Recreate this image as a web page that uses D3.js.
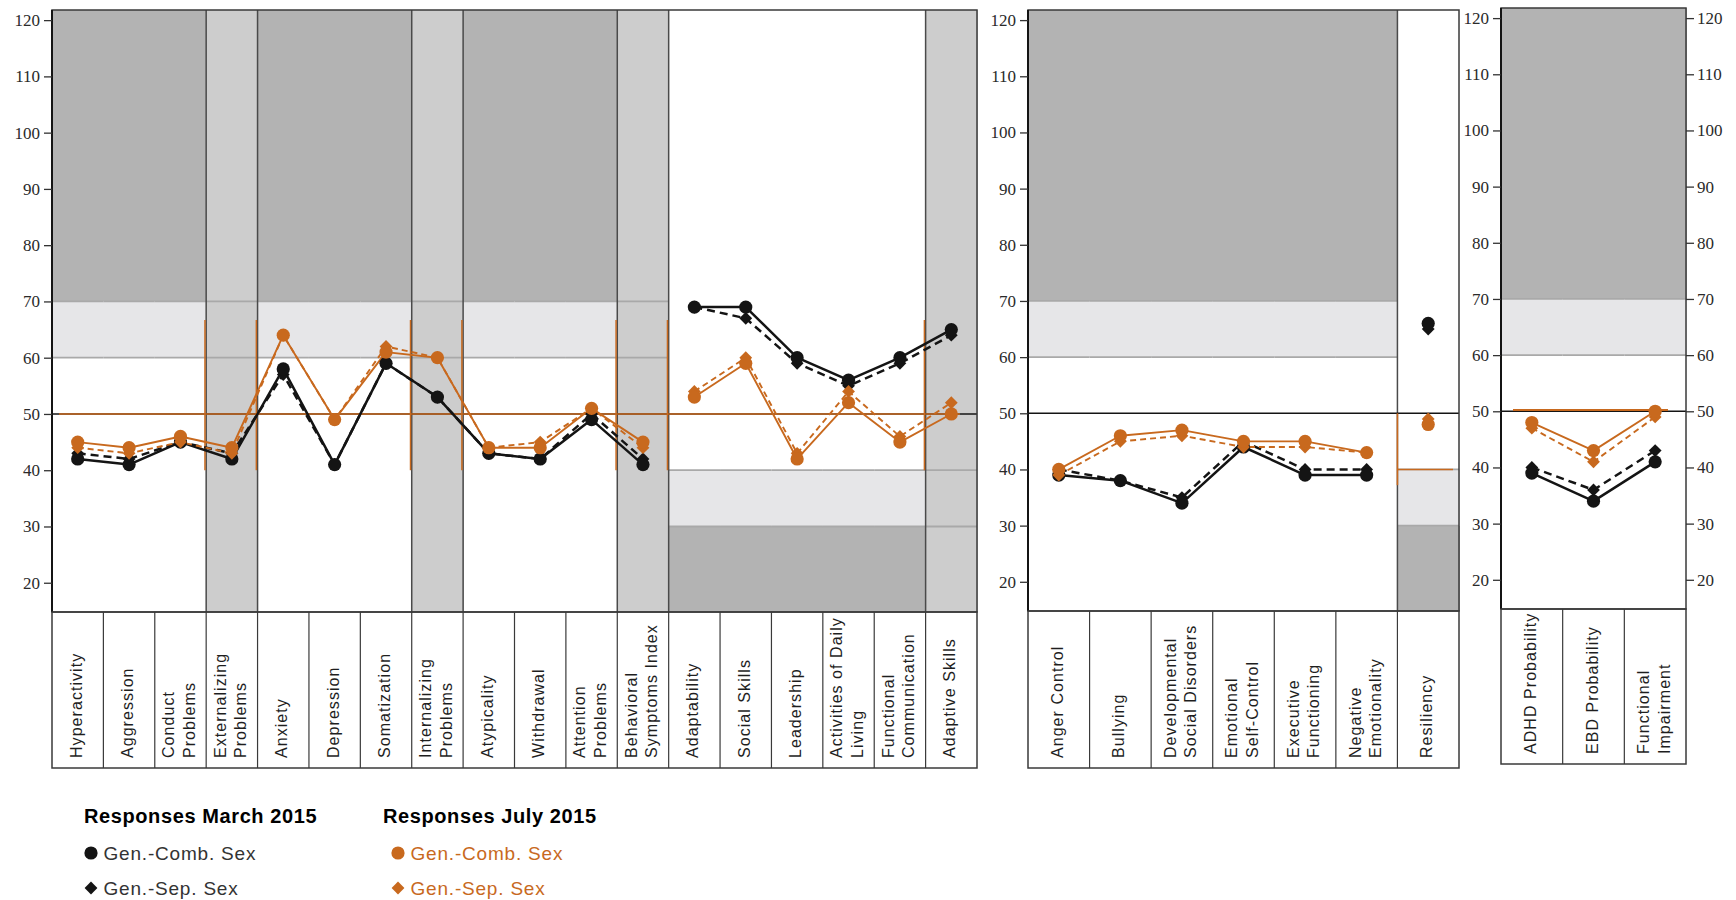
<!DOCTYPE html>
<html>
<head>
<meta charset="utf-8">
<script src="https://cdn.jsdelivr.net/npm/d3@7"></script>
<style>
  body { margin: 0; background: #fff; }
  svg { display: block; }
</style>
</head>
<body>
<svg id="chart" width="1736" height="900"></svg>
<script>
// ---------- Data: T-scores per scale ----------
const yTicks = [20, 30, 40, 50, 60, 70, 80, 90, 100, 110, 120];

// Clinical / adaptive scales and composites
const panel1Categories = ["Hyperactivity", "Aggression", "Conduct\nProblems", "Externalizing\nProblems",
  "Anxiety", "Depression", "Somatization", "Internalizing\nProblems", "Atypicality", "Withdrawal",
  "Attention\nProblems", "Behavioral\nSymptoms Index", "Adaptability", "Social Skills", "Leadership",
  "Activities of Daily\nLiving", "Functional\nCommunication", "Adaptive Skills"];
const panel1Kinds = ["clinical", "clinical", "clinical", "clinicalComposite", "clinical", "clinical",
  "clinical", "clinicalComposite", "clinical", "clinical", "clinical", "clinicalComposite",
  "adaptive", "adaptive", "adaptive", "adaptive", "adaptive", "adaptiveComposite"];
const panel1Segments = [[0, 11], [12, 17]];
const panel1MarchComb = [42, 41, 45, 42, 58, 41, 59, 53, 43, 42, 49, 41, 69, 69, 60, 56, 60, 65];
const panel1MarchSep  = [43, 42, 45, 43, 57, 41, 59, 53, 43, 42, 50, 42, 69, 67, 59, 55, 59, 64];
const panel1JulyComb  = [45, 44, 46, 44, 64, 49, 61, 60, 44, 44, 51, 45, 53, 59, 42, 52, 45, 50];
const panel1JulySep   = [44, 43, 45, 43, 64, 49, 62, 60, 44, 45, 51, 44, 54, 60, 43, 54, 46, 52];

// Content scales
const panel2Categories = ["Anger Control", "Bullying", "Developmental\nSocial Disorders",
  "Emotional\nSelf-Control", "Executive\nFunctioning", "Negative\nEmotionality", "Resiliency"];
const panel2Kinds = ["clinical", "clinical", "clinical", "clinical", "clinical", "clinical", "adaptive"];
const panel2Segments = [[0, 5], [6, 6]];
const panel2MarchComb = [39, 38, 34, 44, 39, 39, 66];
const panel2MarchSep  = [40, 38, 35, 45, 40, 40, 65];
const panel2JulyComb  = [40, 46, 47, 45, 45, 43, 48];
const panel2JulySep   = [39, 45, 46, 44, 44, 43, 49];

// Probability indexes
const panel3Categories = ["ADHD Probability", "EBD Probability", "Functional\nImpairment"];
const panel3Kinds = ["clinical", "clinical", "clinical"];
const panel3Segments = [[0, 2]];
const panel3MarchComb = [39, 34, 41];
const panel3MarchSep  = [40, 36, 43];
const panel3JulyComb  = [48, 43, 50];
const panel3JulySep   = [47, 41, 49];

const legendTitles = ["Responses March 2015", "Responses July 2015"];
const legendItems = ["Gen.-Comb. Sex", "Gen.-Sep. Sex"];

// ---------- Styling ----------
const ORANGE = "#c8691e";
const INK = "#141414";
const DARK_BAND = "#b3b3b3";
const LIGHT_BAND = "#e6e6e8";
const COMPOSITE = "#cdcdcd";
const GRID = "#a9a9a9";
const FRAME = "#3a3a3a";
const yDomain = [14.8, 121.8];

const svg = d3.select("#chart");

const seriesStyles = [
  { key: "marchSep",  color: INK,    width: 2.5, dash: "8,5", shape: "diamond" },
  { key: "marchComb", color: INK,    width: 2.5, dash: null,  shape: "circle" },
  { key: "julySep",   color: ORANGE, width: 1.9, dash: "6,4", shape: "diamond" },
  { key: "julyComb",  color: ORANGE, width: 1.9, dash: null,  shape: "circle" }
];

function drawMarker(g, shape, cx, cy, color) {
  if (shape === "circle") {
    g.append("circle").attr("cx", cx).attr("cy", cy).attr("r", 6.6).attr("fill", color);
  } else {
    g.append("path")
      .attr("d", d3.symbol(d3.symbolSquare, 82)())
      .attr("transform", `translate(${cx},${cy}) rotate(45)`)
      .attr("fill", color);
  }
}

function drawPanel(cfg) {
  const { x0, x1, top, bottom, labelBottom, cats, kinds, segments, series } = cfg;
  const x = d3.scaleBand().domain(d3.range(cats.length)).range([x0, x1]);
  const bw = x.bandwidth();
  const y = d3.scaleLinear().domain(yDomain).range([bottom, top]);
  const g = svg.append("g");
  const bg = g.append("g").attr("shape-rendering", "crispEdges");

  // Column backgrounds
  kinds.forEach((k, i) => {
    const xl = x(i);
    if (k.endsWith("Composite")) {
      bg.append("rect").attr("x", xl).attr("y", top).attr("width", bw + 0.5).attr("height", bottom - top).attr("fill", COMPOSITE);
    } else if (k === "clinical") {
      bg.append("rect").attr("x", xl).attr("y", top).attr("width", bw + 0.5).attr("height", y(70) - top).attr("fill", DARK_BAND);
      bg.append("rect").attr("x", xl).attr("y", y(70)).attr("width", bw + 0.5).attr("height", y(60) - y(70)).attr("fill", LIGHT_BAND);
    } else {
      bg.append("rect").attr("x", xl).attr("y", y(40)).attr("width", bw + 0.5).attr("height", y(30) - y(40)).attr("fill", LIGHT_BAND);
      bg.append("rect").attr("x", xl).attr("y", y(30)).attr("width", bw + 0.5).attr("height", bottom - y(30)).attr("fill", DARK_BAND);
    }
  });

  // Cut-off lines (60/70 for clinical scales, 30/40 for adaptive scales)
  kinds.forEach((k, i) => {
    const levels = k.startsWith("clinical") ? [60, 70] : [30, 40];
    levels.forEach(v => {
      g.append("line").attr("x1", x(i)).attr("x2", x(i) + bw)
        .attr("y1", y(v)).attr("y2", y(v))
        .attr("stroke", GRID).attr("stroke-width", 1.8);
    });
  });

  // Separators between scale groups
  const separators = [];
  for (let i = 0; i < kinds.length - 1; i++) {
    if (kinds[i] !== kinds[i + 1]) separators.push(x(i + 1));
  }
  separators.forEach(sx => {
    g.append("line").attr("x1", sx).attr("x2", sx).attr("y1", top).attr("y2", bottom)
      .attr("stroke", "#4a4a4a").attr("stroke-width", 1.5);
  });

  // Mean line at T = 50
  g.append("line").attr("x1", x0).attr("x2", x1).attr("y1", y(50)).attr("y2", y(50))
    .attr("stroke", INK).attr("stroke-width", 1.4);

  if (cfg.refs) cfg.refs(g, x, y, separators);

  // Frame
  g.append("rect").attr("x", x0).attr("y", top).attr("width", x1 - x0).attr("height", bottom - top)
    .attr("fill", "none").attr("stroke", FRAME).attr("stroke-width", 1.5);
  g.append("line").attr("x1", x0).attr("x2", x0).attr("y1", top).attr("y2", bottom)
    .attr("stroke", INK).attr("stroke-width", 2);

  // Axes
  const styleAxis = (ag) => {
    ag.select(".domain").remove();
    ag.selectAll(".tick line").attr("stroke", "#333").attr("stroke-width", 1.3);
    ag.selectAll(".tick text").attr("fill", "#2a2a2a")
      .style("font-family", "'Liberation Serif', 'Times New Roman', serif").style("font-size", "17px");
  };
  g.append("g").attr("transform", `translate(${x0},0)`)
    .call(d3.axisLeft(y).tickValues(yTicks).tickSize(8).tickPadding(4))
    .call(styleAxis);
  if (cfg.rightAxis) {
    g.append("g").attr("transform", `translate(${x1},0)`)
      .call(d3.axisRight(y).tickValues(yTicks).tickSize(8).tickPadding(3))
      .call(styleAxis);
  }

  // Category label box
  g.append("rect").attr("x", x0).attr("y", bottom).attr("width", x1 - x0).attr("height", labelBottom - bottom)
    .attr("fill", "none").attr("stroke", FRAME).attr("stroke-width", 1.5);
  d3.range(1, cats.length).forEach(i => {
    g.append("line").attr("x1", x(i)).attr("x2", x(i)).attr("y1", bottom).attr("y2", labelBottom)
      .attr("stroke", FRAME).attr("stroke-width", 1.2);
  });
  const fs = 16, lineGap = 20.5, capH = fs * 0.716, desc = fs * 0.2;
  cats.forEach((c, i) => {
    const lines = c.split("\n");
    const cx = x(i) + bw / 2;
    const first = cx + capH - ((lines.length - 1) * lineGap + capH + desc) / 2;
    lines.forEach((ln, k) => {
      g.append("text")
        .attr("transform", `translate(${first + k * lineGap},${labelBottom - 10}) rotate(-90)`)
        .attr("text-anchor", "start")
        .style("font-family", "'Liberation Sans', Arial, sans-serif")
        .style("font-size", fs + "px")
        .style("letter-spacing", "1.05px")
        .attr("fill", "#1e1e1e")
        .text(ln);
    });
  });

  // Series lines and markers
  const line = d3.line().x(d => x(d.i) + bw / 2).y(d => y(d.v));
  seriesStyles.forEach(st => {
    const vals = series[st.key];
    segments.forEach(([a, b]) => {
      if (b > a) {
        const pts = d3.range(a, b + 1).map(i => ({ i, v: vals[i] }));
        g.append("path").datum(pts).attr("d", line).attr("fill", "none")
          .attr("stroke", st.color).attr("stroke-width", st.width)
          .attr("stroke-dasharray", st.dash).attr("stroke-linejoin", "round");
      }
    });
  });
  seriesStyles.forEach(st => {
    const vals = series[st.key];
    vals.forEach((v, i) => drawMarker(g, st.shape, x(i) + bw / 2, y(v), st.color));
  });
}

// Panel 1: clinical & adaptive scales
drawPanel({
  x0: 52, x1: 977, top: 10, bottom: 612, labelBottom: 768,
  cats: panel1Categories, kinds: panel1Kinds, segments: panel1Segments,
  series: { marchComb: panel1MarchComb, marchSep: panel1MarchSep, julyComb: panel1JulyComb, julySep: panel1JulySep },
  refs: (g, x, y, separators) => {
    g.append("line").attr("x1", 59).attr("x2", 960).attr("y1", y(50)).attr("y2", y(50))
      .attr("stroke", ORANGE).attr("stroke-width", 1.6);
    separators.forEach(sx => {
      g.append("line").attr("x1", sx - 1.2).attr("x2", sx - 1.2).attr("y1", y(66.7)).attr("y2", y(40))
        .attr("stroke", ORANGE).attr("stroke-width", 1.5);
    });
  }
});

// Panel 2: content scales
drawPanel({
  x0: 1028, x1: 1459, top: 10, bottom: 611, labelBottom: 768,
  cats: panel2Categories, kinds: panel2Kinds, segments: panel2Segments,
  series: { marchComb: panel2MarchComb, marchSep: panel2MarchSep, julyComb: panel2JulyComb, julySep: panel2JulySep },
  refs: (g, x, y) => {
    const rx = x(6), bw = x.bandwidth();
    g.append("line").attr("x1", rx).attr("x2", rx).attr("y1", y(50)).attr("y2", y(37.2))
      .attr("stroke", ORANGE).attr("stroke-width", 1.6);
    g.append("line").attr("x1", rx).attr("x2", rx + bw - 6).attr("y1", y(40)).attr("y2", y(40))
      .attr("stroke", ORANGE).attr("stroke-width", 1.6);
  }
});

// Panel 3: probability indexes
drawPanel({
  x0: 1501, x1: 1686, top: 8, bottom: 609, labelBottom: 764, rightAxis: true,
  cats: panel3Categories, kinds: panel3Kinds, segments: panel3Segments,
  series: { marchComb: panel3MarchComb, marchSep: panel3MarchSep, julyComb: panel3JulyComb, julySep: panel3JulySep },
  refs: (g, x, y) => {
    g.append("line").attr("x1", 1513).attr("x2", 1668).attr("y1", y(50) - 1.3).attr("y2", y(50) - 1.3)
      .attr("stroke", ORANGE).attr("stroke-width", 1.8);
  }
});

// ---------- Legend ----------
const legend = svg.append("g");
const legendCols = [
  { x: 84, color: INK, textColor: "#333" },
  { x: 383, color: ORANGE, textColor: ORANGE }
];
legendCols.forEach((col, ci) => {
  legend.append("text").attr("x", col.x).attr("y", 823)
    .style("font-family", "'Liberation Sans', Arial, sans-serif").style("font-size", "20px")
    .style("font-weight", "bold").style("letter-spacing", "0.6px").attr("fill", "#000")
    .text(legendTitles[ci]);
  legendItems.forEach((label, k) => {
    const cy = 853 + k * 35;
    const mx = col.x + 7 + (ci === 1 ? 8 : 0);
    drawMarker(legend, k === 0 ? "circle" : "diamond", mx, cy, col.color);
    legend.append("text").attr("x", mx + 12.5).attr("y", cy + 6.5)
      .style("font-family", "'Liberation Sans', Arial, sans-serif").style("font-size", "19px")
      .style("letter-spacing", "0.8px").attr("fill", col.textColor)
      .text(label);
  });
});
</script>
</body>
</html>
